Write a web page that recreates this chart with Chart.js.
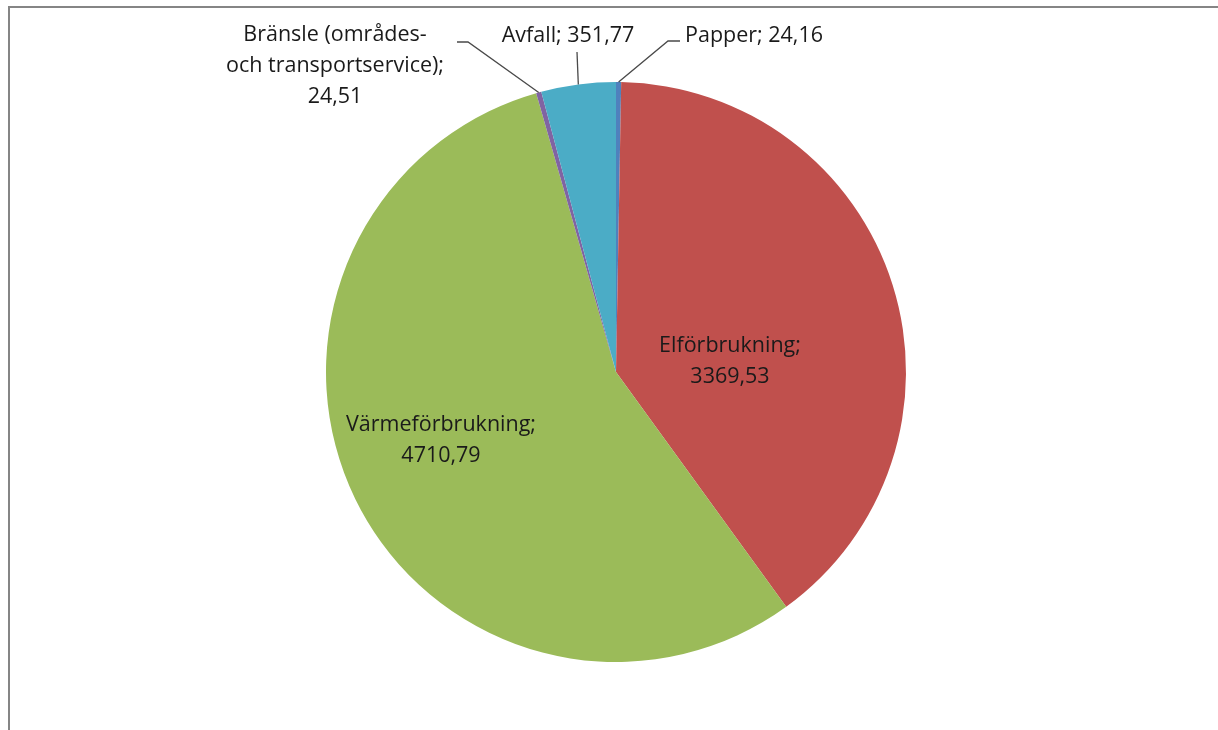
<!DOCTYPE html>
<html>
<head>
<meta charset="utf-8">
<script src="https://cdn.jsdelivr.net/npm/chart.js@4"></script>
<style>
  html, body { margin: 0; padding: 0; background: #fff; }
  #wrap { position: relative; width: 1218px; height: 730px; }
  #frame { position: absolute; left: 8px; top: 6px; right: -4px; bottom: -4px; border-left: 2px solid #858585; border-top: 2px solid #858585; }
  canvas { position: absolute; left: 0; top: 0; }
</style>
</head>
<body>
<div id="wrap">
  <div id="frame"></div>
  <canvas id="pieChart" width="1218" height="730"></canvas>
</div>
<script>
document.addEventListener('DOMContentLoaded', function() {

// kategorier och värden (Excel-ordning, start kl 12 medurs)
const categories = ['Papper', 'Elförbrukning', 'Värmeförbrukning', 'Bränsle (områdes- och transportservice)', 'Avfall'];
const values = [24.16, 3369.53, 4710.79, 24.51, 351.77];
const colors = ['#4F81BD', '#C0504D', '#9BBB59', '#8064A2', '#4BACC6'];

// etikettrader per tårtbit
const labelLines = [
  ['Papper; 24,16'],
  ['Elförbrukning;', '3369,53'],
  ['Värmeförbrukning;', '4710,79'],
  ['Bränsle (områdes-', 'och transportservice);', '24,51'],
  ['Avfall; 351,77']
];

// etikettplacering: text (x,y), align, och ev. hävarm (knä-punkter från tårtkanten)
const labelPos = [
  { x: 685, y: 36, align: 'left', knee: [[668, 41], [680, 41]] },
  { x: 730, y: 346, align: 'center' },
  { x: 441, y: 425, align: 'center' },
  { x: 335, y: 35, align: 'center', knee: [[468, 42], [457, 42]] },
  { x: 568, y: 36, align: 'center', knee: [[577, 52]] }
];

const labelPlugin = {
  id: 'pieLabels',
  afterDatasetsDraw(chart) {
    const c = chart.ctx;
    const arcs = chart.getDatasetMeta(0).data;
    c.save();
    c.font = '21.5px "Open Sans", Lato, sans-serif';
    c.fillStyle = '#1a1a1a';
    c.textBaseline = 'middle';
    arcs.forEach((arc, i) => {
      const p = labelPos[i];
      if (p.knee) {
        const mid = (arc.startAngle + arc.endAngle) / 2;
        const ex = arc.x + Math.cos(mid) * arc.outerRadius;
        const ey = arc.y + Math.sin(mid) * arc.outerRadius;
        c.beginPath();
        c.strokeStyle = '#4a4a4a';
        c.lineWidth = 1.3;
        c.moveTo(ex, ey);
        p.knee.forEach(k => c.lineTo(k[0], k[1]));
        c.stroke();
      }
      c.textAlign = p.align;
      labelLines[i].forEach((t, j) => {
        c.fillText(t, p.x, p.y + j * 31);
      });
    });
    c.restore();
  }
};

const ctx = document.getElementById('pieChart');
const pieChart = new Chart(ctx, {
  type: 'pie',
  data: {
    labels: categories,
    datasets: [{
      data: values,
      backgroundColor: colors,
      borderWidth: 0
    }]
  },
  options: {
    responsive: false,
    animation: false,
    layout: {
      padding: { left: 326, right: 312, top: 82, bottom: 68 }
    },
    plugins: {
      legend: { display: false },
      tooltip: { enabled: false },
      title: { display: false }
    }
  },
  plugins: [labelPlugin]
});

});
</script>
</body>
</html>
